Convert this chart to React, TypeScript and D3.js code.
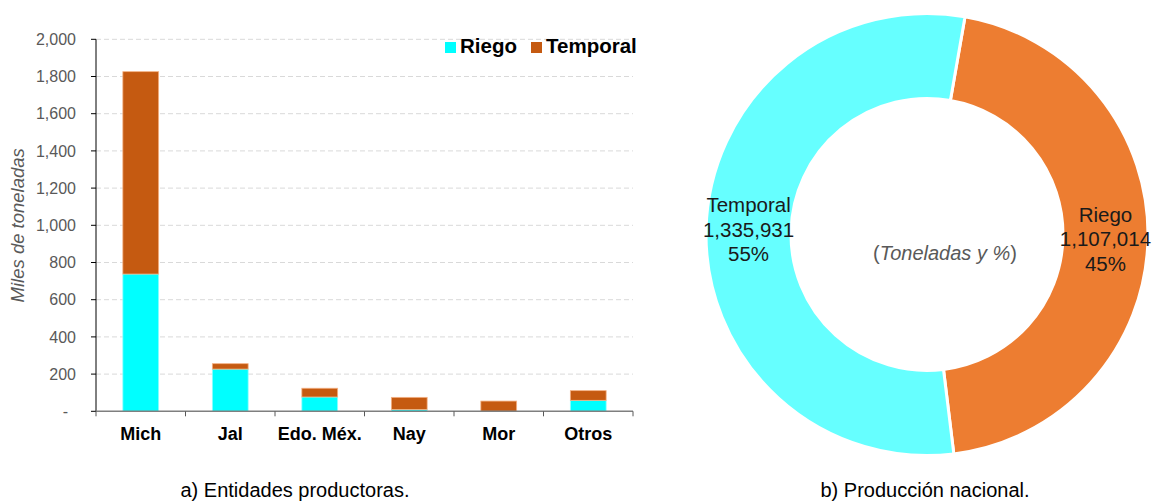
import React from "react";
import * as d3 from "d3";

const categories = ["Mich", "Jal", "Edo. Méx.", "Nay", "Mor", "Otros"];
const riego = [738, 227, 77, 10, 0, 59];
const temporal = [1088, 29, 47, 65, 55, 52];
const yTicks = [0, 200, 400, 600, 800, 1000, 1200, 1400, 1600, 1800, 2000];
const seriesNames = ["Riego", "Temporal"];
const pieLabels = ["Riego", "Temporal"];
const pieValues = [1107014, 1335931];

const FONT = "'Liberation Sans', Arial, sans-serif";
const C_RIEGO = "#00FFFF";
const C_TEMP = "#C55A11";
const P_RIEGO = "#ED7D31";
const P_TEMP = "#66FFFF";

export default function App() {
  const W = 1158, H = 502;
  const x0 = 96, x1 = 633, yTop = 39.3, yBot = 411.3;
  const x = d3.scaleBand<string>().domain(categories).range([x0, x1]).paddingInner(0.6).paddingOuter(0.3);
  const y = d3.scaleLinear().domain([0, 2000]).range([yBot, yTop]);
  const step = x.step();
  const fmt = d3.format(",");

  const rows = categories.map((c, i) => ({ cat: c, Riego: riego[i], Temporal: temporal[i] }));
  const stack = d3.stack<any>().keys(seriesNames)(rows);
  const colors = [C_RIEGO, C_TEMP];
  const strokes = ["#8FFFFF", "#F4B183"];

  // donut
  const cx = 927, cy = 234.5, R = 221, r = 136;
  const total = d3.sum(pieValues);
  const start = (9.9 * Math.PI) / 180;
  const pie = d3.pie<number>().sort(null).startAngle(start).endAngle(start + 2 * Math.PI)(pieValues);
  const arc = d3.arc<any>().innerRadius(r).outerRadius(R);
  const pieColors = [P_RIEGO, P_TEMP];

  return (
    <svg width={W} height={H} style={{ position: "absolute", left: 0, top: 0, background: "#fff" }} fontFamily={FONT}>
      {/* gridlines */}
      {yTicks.filter((t) => t > 0).map((t) => (
        <line key={"g" + t} x1={x0} x2={x1} y1={y(t)} y2={y(t)} stroke="#D9D9D9" strokeWidth={1} strokeDasharray="5,3" />
      ))}
      {/* bars */}
      {stack.map((s, si) =>
        s.map((d, i) => (
          <rect key={si + "-" + i} x={x(categories[i])} width={x.bandwidth()} y={y(d[1])} height={Math.max(0, y(d[0]) - y(d[1]))}
            fill={colors[si]} stroke={d[1] - d[0] > 0 ? strokes[si] : "none"} strokeWidth={0.8} />
        ))
      )}
      {/* y axis */}
      <line x1={x0} x2={x0} y1={yTop} y2={yBot} stroke="#000" strokeWidth={1} />
      {yTicks.map((t) => (
        <g key={"t" + t}>
          <line x1={x0 - 5} x2={x0} y1={y(t)} y2={y(t)} stroke="#000" />
          <text x={t === 0 ? 68 : 76} y={y(t)} dy="0.35em" textAnchor="end" fontSize={16} fill="#595959">
            {t === 0 ? "-" : fmt(t)}
          </text>
        </g>
      ))}
      {/* x axis */}
      <line x1={x0} x2={x1} y1={yBot} y2={yBot} stroke="#7F7F7F" strokeWidth={1.5} />
      {d3.range(categories.length + 1).map((k) => (
        <line key={"xt" + k} x1={x0 + k * step} x2={x0 + k * step} y1={yBot} y2={yBot + 5} stroke="#595959" />
      ))}
      {categories.map((c) => (
        <text key={"xl" + c} x={(x(c) as number) + x.bandwidth() / 2} y={440} textAnchor="middle" fontSize={18} fontWeight="bold" fill="#000">
          {c}
        </text>
      ))}
      <text transform={`translate(24,${(yTop + yBot) / 2 + 0}) rotate(-90)`} textAnchor="middle" fontSize={18.5} fontStyle="italic" fill="#595959">
        Miles de toneladas
      </text>
      {/* legend */}
      <rect x={445} y={42} width={11} height={11} fill={C_RIEGO} />
      <text x={460} y={53.3} fontSize={20.5} fontWeight="bold" fill="#000">{seriesNames[0]}</text>
      <rect x={531} y={42} width={11} height={11} fill={C_TEMP} />
      <text x={546} y={53.3} fontSize={20.5} fontWeight="bold" fill="#000">{seriesNames[1]}</text>

      {/* donut */}
      <g transform={`translate(${cx},${cy})`}>
        {pie.map((p, i) => (
          <path key={"p" + i} d={arc(p) as string} fill={pieColors[i]} stroke="#fff" strokeWidth={3} />
        ))}
        {pie.map((p, i) => {
          const [lx, ly] = arc.centroid(p);
          const pct = Math.round((pieValues[i] / total) * 100) + "%";
          return (
            <text key={"pl" + i} x={lx} y={ly + 7} textAnchor="middle" fontSize={20.5} fill="#1a1a1a">
              <tspan x={lx} dy={-24.5}>{pieLabels[i]}</tspan>
              <tspan x={lx} dy={24.5}>{fmt(pieValues[i])}</tspan>
              <tspan x={lx} dy={24.5}>{pct}</tspan>
            </text>
          );
        })}
      </g>
      <text x={945} y={260} textAnchor="middle" fontSize={20} fill="#595959">
        (<tspan fontStyle="italic">Toneladas y %</tspan>)
      </text>

      {/* captions */}
      <text x={295} y={497} textAnchor="middle" fontSize={20} fill="#000">a) Entidades productoras.</text>
      <text x={925} y={497} textAnchor="middle" fontSize={20} fill="#000">b) Producción nacional.</text>
    </svg>
  );
}
